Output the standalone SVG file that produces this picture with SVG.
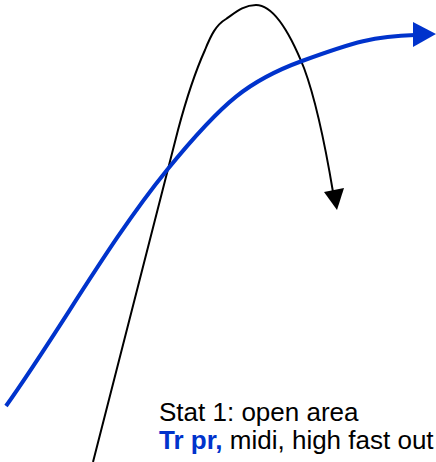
<svg xmlns="http://www.w3.org/2000/svg" width="436" height="462" viewBox="0 0 436 462">
<style>
.blue{fill:none;stroke:#0033cc;stroke-width:4;stroke-linecap:butt}
.black{fill:none;stroke:#000;stroke-width:2}
.t{font-family:"Liberation Sans",Arial,sans-serif;font-size:26px;fill:#000}
.b{font-weight:bold;fill:#0033cc}
</style>
<rect width="436" height="462" fill="#fff"/>
<g id="connectors">
<path class="black" d="M93,462 L178,130 C 186,100 196,70 205,50 C 211,35 216,25 226,19 C 236,12 244,5 256,5 C 275,5 292,38 304,68 C 317,103 326,150 333,192"/>
<polygon points="324,192 344,188 337,210" fill="#000"/>
<path class="blue" d="M6,406 C 60,330 110,240 167,170 S 250,80 302,61 S 375,36 415,35"/>
<polygon points="413,22 436,34 413,47" fill="#0033cc"/>
</g>
<g id="label">
<text class="t" x="159" y="421">Stat 1: open area</text>
<text class="t" x="159" y="449"><tspan class="b">Tr pr,</tspan> midi, high fast out</text>
</g>
</svg>
